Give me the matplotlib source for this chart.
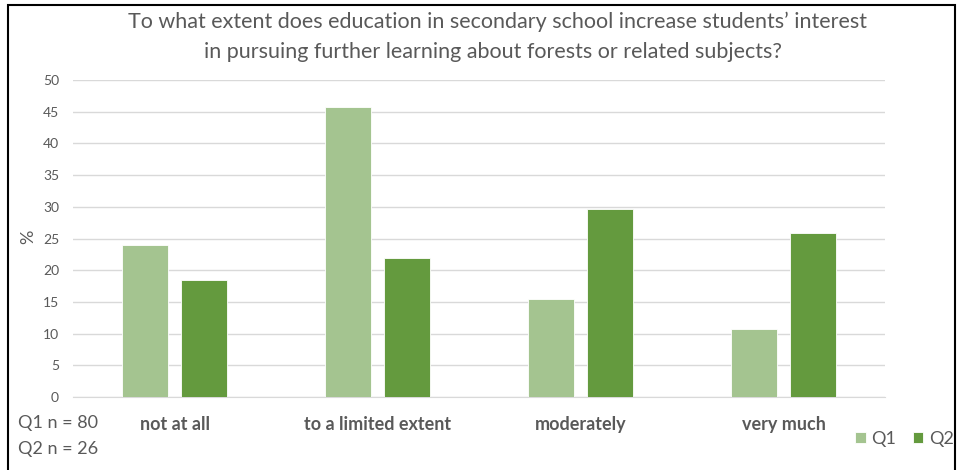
import numpy as np
import matplotlib.pyplot as plt
from matplotlib.patches import Rectangle

categories = ['not at all', 'to a limited extent', 'moderately', 'very much']
q1 = [24.0, 45.8, 15.5, 10.8]
q2 = [18.5, 22.0, 29.6, 25.9]
series_names = ['Q1', 'Q2']
sample_notes = ['Q1 n = 80', 'Q2 n = 26']
yticks = list(range(0, 55, 5))

c_q1 = '#a4c490'
c_q2 = '#649a3e'
gray = '#595959'

plt.rcParams['font.family'] = ['Lato', 'DejaVu Sans']

W, H = 960, 470
fig = plt.figure(figsize=(W / 100, H / 100), dpi=100)
# axes placed in pixel terms: left 73, right 885, top 80, bottom 397
ax = fig.add_axes([73 / W, 1 - 397 / H, (885 - 73) / W, (397 - 80) / H])

x = np.arange(len(categories))
bw = 0.226
ax.bar(x - 0.145, q1, bw, color=c_q1, edgecolor='white', linewidth=0.6, label=series_names[0], zorder=3)
ax.bar(x + 0.145, q2, bw, color=c_q2, edgecolor='white', linewidth=0.6, label=series_names[1], zorder=3)

ax.set_xlim(-0.5, len(categories) - 0.5)
ax.set_ylim(0, 50)
ax.set_yticks(yticks)
ax.yaxis.grid(True, color='#d9d9d9', linewidth=1.0, zorder=0)
ax.tick_params(axis='y', length=0, labelsize=10, labelcolor=gray, pad=10)
ax.tick_params(axis='x', length=0, labelsize=13, labelcolor=gray, pad=14)
ax.set_xticks(x)
ax.set_xticklabels(categories, fontweight='bold')
for s in ['top', 'right', 'left']:
    ax.spines[s].set_visible(False)
ax.spines['bottom'].set_color('#d9d9d9')

fig.text(28 / W, 1 - 237 / H, '%', rotation=90, ha='center', va='center', fontsize=13, color=gray)

fig.text(497 / W, 1 - 22 / H, 'To what extent does education in secondary school increase students\u2019 interest',
         ha='center', va='center', fontsize=15.5, color=gray)
fig.text(493 / W, 1 - 52 / H, 'in pursuing further learning about forests or related subjects?',
         ha='center', va='center', fontsize=15.5, color=gray)

fig.text(18 / W, 1 - 423 / H, sample_notes[0], ha='left', va='center', fontsize=13, color=gray)
fig.text(18 / W, 1 - 449 / H, sample_notes[1], ha='left', va='center', fontsize=13, color=gray)

leg = fig.legend(loc='center right', bbox_to_anchor=(970 / W, 1 - 439 / H), ncol=2, frameon=False,
                 fontsize=13, handlelength=0.6, handleheight=0.6, handletextpad=0.3, columnspacing=0.9)
for t in leg.get_texts():
    t.set_color(gray)

fig.patches.append(Rectangle((8 / W, -0.01), (955 - 8) / W, 1.0, transform=fig.transFigure,
                             fill=False, edgecolor='black', linewidth=1.5))

fig.savefig('out.png', dpi=100)
